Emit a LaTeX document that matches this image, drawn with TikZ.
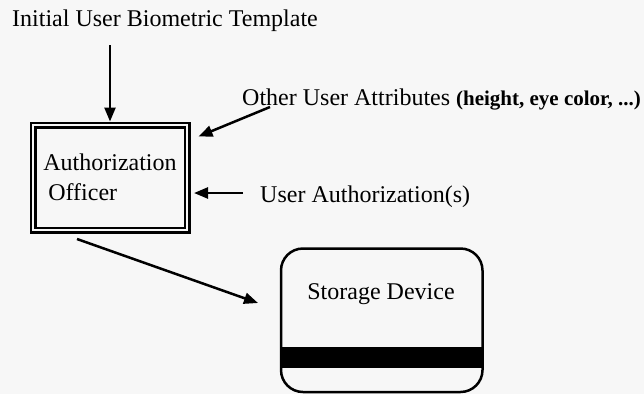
\documentclass[tikz,border=0pt]{standalone}
\usepackage{fontspec}
\setmainfont{Liberation Serif}
\usepackage{tikz}
\usetikzlibrary{arrows.meta, positioning, calc}
\definecolor{cPaper}{HTML}{F7F7F7}
\definecolor{cInk}{HTML}{000000}

\begin{document}
\begin{tikzpicture}[
    x=1pt, y=-1pt,
    >=Latex,
    arrow/.style={-{Triangle[length=14pt,width=11pt]}, line width=2.5pt, draw=cInk},
    lbl/.style={font=\fontsize{24}{30}\selectfont, inner sep=0pt, anchor=base west},
    officerbox/.style={draw=cInk, double=cPaper, line width=2.5pt, double distance=2pt,
      minimum width=154pt, minimum height=105pt, inner sep=0pt, outer sep=3.5pt,
      align=left, font=\fontsize{24}{30}\selectfont},
    cardbox/.style={draw=cInk, rounded corners=22pt, line width=2.5pt,
      minimum width=201.5pt, minimum height=143.5pt, inner sep=0pt},
]

% ---------- Paper ----------
\fill[cPaper] (0,0) rectangle (644,394);
\useasboundingbox (0,0) rectangle (644,394);

% ---------- Labels ----------
\node[lbl] (title) at (12,26) {Initial User Biometric Template};
\node[lbl] (attrs) at (242,105) {Other User Attributes {\fontsize{21}{25}\selectfont\bfseries(height, eye color, ...)}};
\node[lbl] (auth)  at (260,202) {User Authorization(s)};

% ---------- Officer (double frame) ----------
\node[officerbox] (officer) at (110,177.5) {Authorization\\\hspace{5pt}Officer};

% ---------- Storage device (card with stripe) ----------
\node[cardbox] (storage) at (381.75,320.25) {};
\fill[cInk] ($(storage.west)+(1,27)$) rectangle ($(storage.east)+(-1,48)$);
\node[lbl, anchor=base] (storelabel) at (381,299) {Storage Device};

% ---------- Arrows ----------
\draw[arrow, shorten <=14pt] (officer.north |- title.south) -- (officer.north);
\draw[arrow] ($(attrs.base west)+(28,2)$) -- ($(officer.north east)+(8,15)$);
\draw[arrow] ($(auth.base west)+(-17,-9)$) -- ($(officer.east |- auth.base west)+(3.5,-9)$);
\draw[arrow] ($(officer.south west)+(47.5,5.5)$) -- ($(storage.west)+(-21.75,-17.25)$);

\end{tikzpicture}
\end{document}
